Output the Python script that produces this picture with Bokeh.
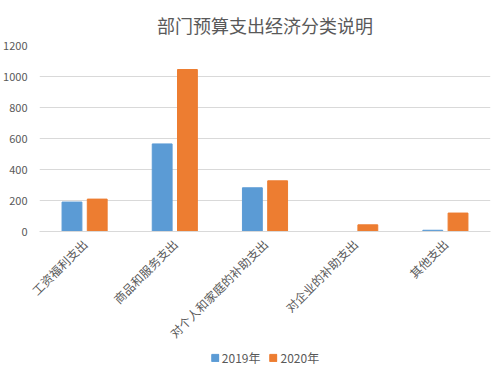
import math
from bokeh.plotting import figure
from bokeh.layouts import column
from bokeh.models import ColumnDataSource, Legend, LegendItem, SingleIntervalTicker
from bokeh.transform import dodge
from bokeh.embed import file_html
from bokeh.resources import INLINE

categories = ["工资福利支出", "商品和服务支出", "对个人和家庭的补助支出", "对企业的补助支出", "其他支出"]
values_2019 = [190, 565, 282, 0, 8]
values_2020 = [209, 1045, 327, 43, 119]
series_names = ["2019年", "2020年"]
title_text = "部门预算支出经济分类说明"

FONT = "Noto Sans CJK SC"
GRAY = "#595959"
BLUE = "#5B9BD5"
ORANGE = "#ED7D31"

src = ColumnDataSource(dict(cat=categories, y2019=values_2019, y2020=values_2020))

# main chart
p = figure(x_range=categories, y_range=(0, 1200), width=500, height=349,
           output_backend="svg", toolbar_location=None,
           min_border_left=37, min_border_right=10, min_border_top=45, min_border_bottom=117)

p.vbar(x=dodge("cat", -0.14, range=p.x_range), top="y2019", width=0.22, source=src,
       fill_color=BLUE, line_color=BLUE)
p.vbar(x=dodge("cat", 0.14, range=p.x_range), top="y2020", width=0.22, source=src,
       fill_color=ORANGE, line_color=ORANGE)

p.title.text = title_text
p.title.align = "center"
p.title.text_font = FONT
p.title.text_font_size = "18px"
p.title.text_font_style = "normal"
p.title.text_color = GRAY
p.title.standoff = 16

p.outline_line_color = None
p.xgrid.grid_line_color = None
p.ygrid.grid_line_color = "#D9D9D9"
p.yaxis.ticker = SingleIntervalTicker(interval=200)
p.yaxis.axis_line_color = None
p.yaxis.major_tick_line_color = None
p.yaxis.minor_tick_line_color = None
p.yaxis.major_label_text_color = GRAY
p.yaxis.major_label_text_font = FONT
p.yaxis.major_label_text_font_size = "11px"
p.yaxis.major_label_standoff = 6

p.xaxis.axis_line_color = "#D9D9D9"
p.xaxis.major_tick_line_color = None
p.xaxis.minor_tick_line_color = None
p.xaxis.major_label_orientation = math.pi / 4
p.xaxis.major_label_text_color = GRAY
p.xaxis.major_label_text_font = FONT
p.xaxis.major_label_text_font_size = "12px"
p.xaxis.major_label_standoff = 4

# legend strip
lg = figure(x_range=categories, y_range=(0, 1), width=500, height=29,
            output_backend="svg", toolbar_location=None,
            x_axis_location=None, y_axis_location=None,
            min_border=0, min_border_left=0, min_border_right=0,
            min_border_top=0, min_border_bottom=0)
lg.outline_line_color = None
lg.xgrid.grid_line_color = None
lg.ygrid.grid_line_color = None
l1 = lg.vbar(x="cat", top="y2019", width=0.22, source=src, fill_color=BLUE, line_color=BLUE, visible=False)
l2 = lg.vbar(x="cat", top="y2020", width=0.22, source=src, fill_color=ORANGE, line_color=ORANGE, visible=False)

legend = Legend(items=[LegendItem(label=series_names[0], renderers=[l1]),
                       LegendItem(label=series_names[1], renderers=[l2])],
                orientation="horizontal", location="top_center",
                label_text_font=FONT, label_text_font_size="12px", label_text_color=GRAY,
                glyph_width=9, glyph_height=9, label_height=14, spacing=8, label_standoff=3,
                border_line_color=None, background_fill_alpha=0, margin=0, padding=3,
                inactive_fill_alpha=0)
lg.add_layout(legend, "center")

layout = column(p, lg, spacing=0)
open("out.html", "w").write(file_html(layout, INLINE))
